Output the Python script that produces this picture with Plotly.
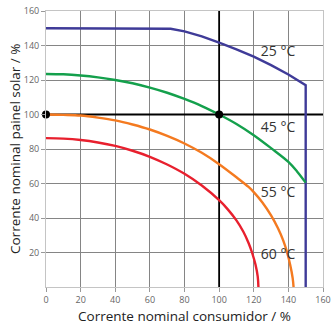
import plotly.graph_objects as go

# curve values (% of nominal)
x_25 = [0, 67, 72, 80, 90, 100, 110, 120, 130, 140, 150, 150]
y_25 = [150, 150, 149.7, 148.2, 145.3, 141.6, 137.8, 133.5, 128.6, 123.2, 117, 0]

x_45 = [0, 10, 20, 30, 40, 50, 60, 70, 80, 90, 100, 110, 120, 130, 140, 145, 150]
y_45 = [123.5, 123.3, 122.6, 121.5, 120.0, 118.1, 115.6, 112.6, 109.0, 104.9, 100.0, 94.5, 88.0, 80.5, 72.5, 67.0, 60.5]

x_55 = [0, 10, 20, 30, 40, 50, 60, 70, 80, 90, 100, 110, 117, 120, 125, 130, 134, 137, 139, 141, 142.5, 143]
y_55 = [100, 99.8, 99.4, 98.2, 96.6, 94.2, 91.3, 87.6, 83.2, 77.8, 71.2, 63.6, 58.0, 55.0, 49.0, 41.5, 34.0, 27.0, 21.0, 13.0, 5.0, 0]

x_60 = [0, 10, 20, 30, 40, 50, 60, 70, 80, 90, 100, 105, 110, 114, 117, 119, 121, 122.3, 122.7]
y_60 = [86.3, 86.0, 85.2, 83.8, 81.8, 79.0, 75.5, 71.0, 65.6, 58.8, 50.3, 45.0, 38.6, 32.0, 25.5, 20.0, 13.0, 6.0, 0]

dot_x = [0, 100]
dot_y = [100, 100]
ref_value = 100
axis_max = 160

labels = ["25 °C", "45 °C", "55 °C", "60 °C"]
label_x = [134, 134, 134, 134]
label_y = [136, 91.6, 54, 18]

x_ticks = [0, 20, 40, 60, 80, 100, 120, 140, 160]
y_ticks = [20, 40, 60, 80, 100, 120, 140, 160]

FONT = "Open Sans"

fig = go.Figure()

# black reference lines at 100 %
fig.add_trace(go.Scatter(x=[0, axis_max], y=[ref_value, ref_value], mode="lines",
                         line=dict(color="black", width=1.8), hoverinfo="skip"))
fig.add_trace(go.Scatter(x=[ref_value, ref_value], y=[0, axis_max], mode="lines",
                         line=dict(color="black", width=1.8), hoverinfo="skip"))

curves = [
    (x_25, y_25, "#3f3b98", "linear"),
    (x_45, y_45, "#14a04c", "spline"),
    (x_55, y_55, "#f47a20", "spline"),
    (x_60, y_60, "#e8202e", "spline"),
]
for xs, ys, col, shape in curves:
    fig.add_trace(go.Scatter(x=xs, y=ys, mode="lines", line=dict(color=col, width=2.4, shape=shape),
                             cliponaxis=False, hoverinfo="skip"))

fig.add_trace(go.Scatter(x=dot_x, y=dot_y, mode="markers", marker=dict(color="black", size=8),
                         cliponaxis=False, hoverinfo="skip"))

fig.add_trace(go.Scatter(x=label_x, y=label_y, mode="text", text=labels,
                         textfont=dict(family=FONT, size=14, color="#333333"), hoverinfo="skip"))

axis_common = dict(
    range=[0, axis_max], showgrid=True, gridcolor="#858585", gridwidth=1,
    zeroline=False, showline=True, mirror=True, linecolor="#c4c4c4", linewidth=1,
    ticks="outside", ticklen=4, tickcolor="#999999",
    tickfont=dict(family=FONT, size=9, color="#666666"),
    title_font=dict(family=FONT, size=13.5, color="#222222"),
    fixedrange=True, automargin=False,
)

fig.update_xaxes(tickvals=x_ticks, title_text="Corrente nominal consumidor / %", title_standoff=6, **axis_common)
fig.update_yaxes(tickvals=y_ticks, **axis_common)

# y title as annotation so it sits where the reference has it
fig.add_annotation(text="Corrente nominal painel solar / %", xref="paper", yref="paper",
                   x=0, y=0.5, xshift=-31, xanchor="center", yanchor="middle", textangle=-90,
                   showarrow=False, font=dict(family=FONT, size=13.5, color="#222222"))

fig.update_layout(
    width=333, height=325,
    margin=dict(l=46, r=10, t=11, b=38),
    plot_bgcolor="white", paper_bgcolor="white",
    showlegend=False,
)

# drop the default 8px body margin so the figure fills the window exactly
fig.write_html("out.html", config={"displayModeBar": False},
               post_script="document.body.style.margin='0';")
